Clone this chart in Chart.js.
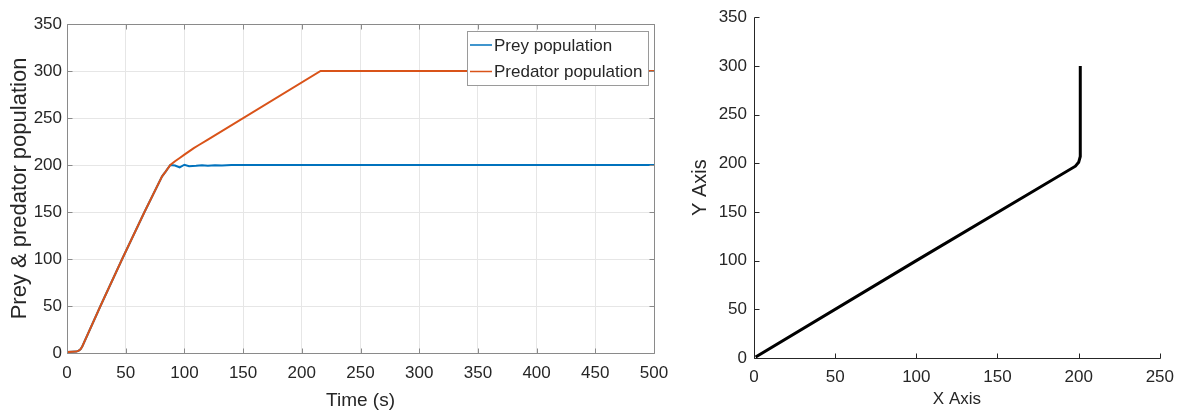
<!DOCTYPE html>
<html>
<head>
<meta charset="utf-8">
<script src="https://cdn.jsdelivr.net/npm/chart.js@4.4.0/dist/chart.umd.min.js"></script>
<style>
    html, body { margin: 0; padding: 0; background: #fff; }
    #wrap { position: relative; width: 1183px; height: 414px; overflow: hidden; }
    #left { position: absolute; left: 0; top: 0; }
    #right { position: absolute; left: 680px; top: 0; }
</style>
</head>
<body>
<div id="wrap">
    <canvas id="left" width="680" height="414"></canvas>
    <canvas id="right" width="503" height="414"></canvas>
</div>
<script>
// time series (left plot)
const preyTime = [0, 8, 10, 11.5, 13, 28.5, 47, 66, 81, 84, 88, 92, 96, 100, 104, 110, 115, 120, 126, 132, 140, 500]
const preyPop  = [1, 1.5, 2.5, 4, 7, 50, 100, 150, 188, 193, 200, 199.5, 197.5, 200.3, 198.8, 199.2, 199.8, 199.3, 199.8, 199.4, 200, 200]

const predatorTime = [0, 8, 10, 11.5, 13, 28.5, 47, 66, 81, 84, 88, 92, 96, 100, 104, 108, 112, 120, 216, 500]
const predatorPop  = [1, 1.5, 2.5, 4, 7, 50, 100, 150, 188, 193, 200, 204, 207.5, 211, 214.5, 218, 221, 227, 300, 300]

// phase plot (right plot)
const phaseX = [1, 100, 198, 200, 201, 201]
const phaseY = [1, 100, 197, 201, 207, 300]

const timeTicks = [0, 50, 100, 150, 200, 250, 300, 350, 400, 450, 500]
const popTicks = [0, 50, 100, 150, 200, 250, 300, 350]
const xAxisTicks = [0, 50, 100, 150, 200, 250]

const seriesNames = ['Prey population', 'Predator population']
const seriesColors = ['#0072BD', '#D95319']

const FONT = '"Liberation Sans", Arial, Helvetica, sans-serif'
const TEXT = '#262626'

function toPoints(xs, ys) {
    return xs.map(function (x, i) { return { x: x, y: ys[i] } })
}

// matlab style axes: lines, inward ticks, optional full box
const axesFrame = {
    id: 'axesFrame',
    afterDatasetsDraw(chart, args, opts) {
        const ctx = chart.ctx
        const a = chart.chartArea
        const x = chart.scales.x
        const y = chart.scales.y
        const len = opts.tickLen
        ctx.save()
        ctx.strokeStyle = opts.color
        ctx.lineWidth = 1
        ctx.beginPath()
        const L = Math.round(a.left) + 0.5, R = Math.round(a.right) + 0.5
        const T = Math.round(a.top) + 0.5, B = Math.round(a.bottom) + 0.5
        ctx.moveTo(L, T); ctx.lineTo(L, B); ctx.lineTo(R, B)
        if (opts.box) { ctx.lineTo(R, T); ctx.lineTo(L, T) }
        x.ticks.forEach(function (t) {
            const px = Math.round(x.getPixelForValue(t.value)) + 0.5
            ctx.moveTo(px, B); ctx.lineTo(px, B - len)
            if (opts.box) { ctx.moveTo(px, T); ctx.lineTo(px, T + len) }
        })
        y.ticks.forEach(function (t) {
            const py = Math.round(y.getPixelForValue(t.value)) + 0.5
            ctx.moveTo(L, py); ctx.lineTo(L + len, py)
            if (opts.box) { ctx.moveTo(R, py); ctx.lineTo(R - len, py) }
        })
        ctx.stroke()
        ctx.restore()
    }
}

// legend box in the upper right corner of the plot
const boxLegend = {
    id: 'boxLegend',
    afterDraw(chart, args, opts) {
        if (!opts.show) return
        const ctx = chart.ctx
        const a = chart.chartArea
        const w = 181, h = 54
        const bx = a.right - 6 - w, by = a.top + 7
        ctx.save()
        ctx.fillStyle = '#fff'
        ctx.fillRect(bx, by, w, h)
        ctx.strokeStyle = '#9a9a9a'
        ctx.lineWidth = 1
        ctx.strokeRect(Math.round(bx) + 0.5, Math.round(by) + 0.5, w, h)
        ctx.font = '17px ' + FONT
        ctx.textBaseline = 'middle'
        ctx.fillStyle = TEXT
        seriesNames.forEach(function (name, i) {
            const cy = by + 14 + i * 26.5
            ctx.strokeStyle = seriesColors[i]
            ctx.lineWidth = 1.5
            ctx.beginPath()
            ctx.moveTo(bx + 3, cy); ctx.lineTo(bx + 25, cy)
            ctx.stroke()
            ctx.fillText(name, bx + 27, cy + 1)
        })
        ctx.restore()
    }
}

Chart.register(axesFrame, boxLegend)

new Chart(document.getElementById('left'), {
    type: 'line',
    data: {
        datasets: [{
            label: seriesNames[0],
            data: toPoints(preyTime, preyPop),
            borderColor: seriesColors[0],
            borderWidth: 2,
            pointRadius: 0,
            order: 2
        }, {
            label: seriesNames[1],
            data: toPoints(predatorTime, predatorPop),
            borderColor: seriesColors[1],
            borderWidth: 2,
            pointRadius: 0,
            order: 1
        }]
    },
    options: {
        responsive: false,
        animation: false,
        layout: { padding: { top: 24, right: 26, left: 0, bottom: 0 } },
        plugins: {
            legend: { display: false },
            tooltip: { enabled: false },
            axesFrame: { color: '#8a8a8a', tickLen: 5, box: true },
            boxLegend: { show: true }
        },
        scales: {
            x: {
                type: 'linear', min: 0, max: 500,
                afterBuildTicks: function (s) { s.ticks = timeTicks.map(function (v) { return { value: v } }) },
                afterFit: function (s) { s.height = 61 },
                grid: { color: '#e6e6e6', drawTicks: false },
                border: { display: false },
                ticks: { color: TEXT, font: { family: FONT, size: 17 }, padding: 10, maxRotation: 0 },
                title: { display: true, text: 'Time (s)', color: TEXT, font: { family: FONT, size: 19 }, padding: { top: 0, bottom: 2 } }
            },
            y: {
                type: 'linear', min: 0, max: 350,
                afterBuildTicks: function (s) { s.ticks = popTicks.map(function (v) { return { value: v } }) },
                afterFit: function (s) { s.width = 67 },
                grid: { color: '#e6e6e6', drawTicks: false },
                border: { display: false },
                ticks: { color: TEXT, font: { family: FONT, size: 17 }, padding: 5 },
                title: { display: true, text: 'Prey & predator population', color: TEXT, font: { family: FONT, size: 22 }, padding: { top: 7, bottom: 0 } }
            }
        }
    }
})

new Chart(document.getElementById('right'), {
    type: 'line',
    data: {
        datasets: [{
            label: 'phase',
            data: toPoints(phaseX, phaseY),
            borderColor: '#000',
            borderWidth: 3,
            pointRadius: 0
        }]
    },
    options: {
        responsive: false,
        animation: false,
        layout: { padding: { top: 15, right: 21, left: 0, bottom: 0 } },
        plugins: {
            legend: { display: false },
            tooltip: { enabled: false },
            axesFrame: { color: '#262626', tickLen: 5, box: false },
            boxLegend: { show: false }
        },
        scales: {
            x: {
                type: 'linear', min: 0, max: 250,
                afterBuildTicks: function (s) { s.ticks = xAxisTicks.map(function (v) { return { value: v } }) },
                afterFit: function (s) { s.height = 56 },
                grid: { display: false, drawTicks: false },
                border: { display: false },
                ticks: { color: TEXT, font: { family: FONT, size: 17 }, padding: 9, maxRotation: 0 },
                title: { display: true, text: 'X Axis', color: TEXT, font: { family: FONT, size: 17 }, padding: { top: 0, bottom: 4 } }
            },
            y: {
                type: 'linear', min: 0, max: 350,
                afterBuildTicks: function (s) { s.ticks = popTicks.map(function (v) { return { value: v } }) },
                afterFit: function (s) { s.width = 74 },
                grid: { display: false, drawTicks: false },
                border: { display: false },
                ticks: { color: TEXT, font: { family: FONT, size: 17 }, padding: 7 },
                title: { display: true, text: 'Y Axis', color: TEXT, font: { family: FONT, size: 20 }, padding: { top: 8, bottom: 0 } }
            }
        }
    }
})
</script>
</body>
</html>
